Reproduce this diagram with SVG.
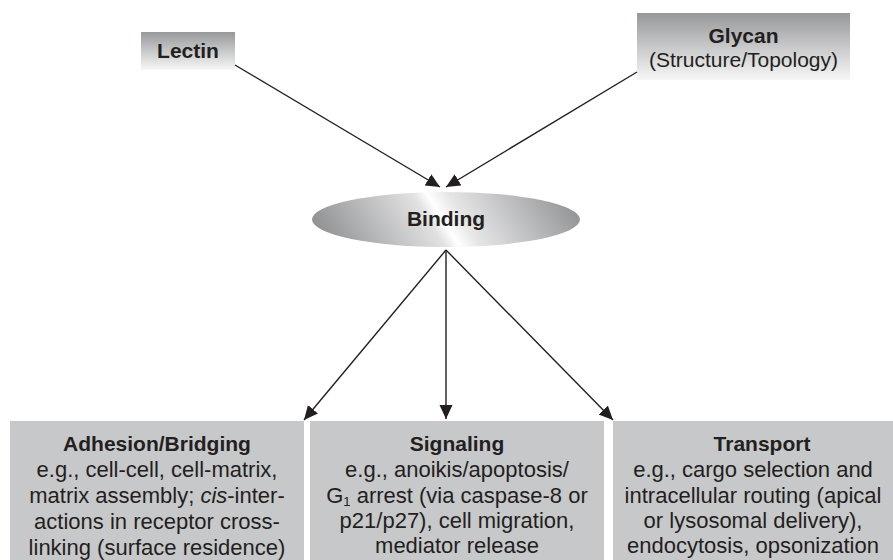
<svg xmlns="http://www.w3.org/2000/svg" width="893" height="560" viewBox="0 0 893 560">
<defs>
<linearGradient id="topGrad" x1="0" y1="0" x2="0" y2="1">
<stop offset="0" stop-color="#97989a"/>
<stop offset="1" stop-color="#f7f7f7"/>
</linearGradient>
<linearGradient id="ellGrad" gradientUnits="userSpaceOnUse" x1="318.5" y1="298" x2="573.5" y2="140">
<stop offset="0.1" stop-color="#8c8d8f"/>
<stop offset="0.45" stop-color="#e2e2e3"/>
<stop offset="0.49" stop-color="#ffffff"/>
<stop offset="0.55" stop-color="#e6e6e7"/>
<stop offset="0.9" stop-color="#909193"/>
</linearGradient>
<marker id="arrow" markerUnits="userSpaceOnUse" markerWidth="16" markerHeight="14" refX="14" refY="6.5" orient="auto">
<path d="M0,0 L14,6.5 L0,13 z" fill="#231f20"/>
</marker>
</defs>
<style>
text { font-family: "Liberation Sans", Arial, sans-serif; fill: #231f20; text-anchor: middle; }
.b { font-weight: bold; font-size: 21px; }
.r { font-size: 21px; }
.body { font-size: 22px; }
.box { fill: #c7c8ca; }
.conn line { stroke: #231f20; stroke-width: 1.4; marker-end: url(#arrow); }
</style>

<g id="lectin">
<rect x="141" y="32" width="94" height="38" fill="url(#topGrad)"/>
<text class="b" x="188" y="58">Lectin</text>
</g>

<g id="glycan">
<rect x="637" y="13" width="213" height="67" fill="url(#topGrad)"/>
<text class="b" x="743.5" y="43">Glycan</text>
<text class="r" x="743.5" y="67">(Structure/Topology)</text>
</g>

<g id="binding">
<ellipse cx="446" cy="219.5" rx="134" ry="27.5" fill="url(#ellGrad)"/>
<text class="b" x="446" y="226">Binding</text>
</g>

<g id="adhesion">
<rect class="box" x="10" y="421" width="294" height="139"/>
<text class="b" x="157" y="451">Adhesion/Bridging</text>
<text class="body" x="157" y="477">e.g., cell-cell, cell-matrix,</text>
<text class="body" x="157" y="503">matrix assembly; <tspan font-style="italic">cis</tspan>-inter-</text>
<text class="body" x="157" y="529">actions in receptor cross-</text>
<text class="body" x="157" y="555">linking (surface residence)</text>
</g>

<g id="signaling">
<rect class="box" x="310" y="421" width="294" height="139"/>
<text class="b" x="457" y="451">Signaling</text>
<text class="body" x="457" y="477">e.g., anoikis/apoptosis/</text>
<text class="body" x="457" y="503">G<tspan font-size="13" dy="3">1</tspan><tspan dy="-3"> arrest (via caspase-8 or</tspan></text>
<text class="body" x="457" y="528">p21/p27), cell migration,</text>
<text class="body" x="457" y="553">mediator release</text>
</g>

<g id="transport">
<rect class="box" x="613" y="421" width="294" height="139"/>
<text class="b" x="762" y="451">Transport</text>
<text class="body" x="753" y="477">e.g., cargo selection and</text>
<text class="body" x="753" y="503">intracellular routing (apical</text>
<text class="body" x="753" y="528">or lysosomal delivery),</text>
<text class="body" x="753" y="553">endocytosis, opsonization</text>
</g>

<g id="connectors" class="conn">
<line x1="235" y1="65" x2="440" y2="187"/>
<line x1="637" y1="72" x2="446" y2="187"/>
<line x1="446" y1="250" x2="304" y2="420"/>
<line x1="446" y1="250" x2="446" y2="419"/>
<line x1="446" y1="250" x2="613" y2="420"/>
</g>
</svg>
